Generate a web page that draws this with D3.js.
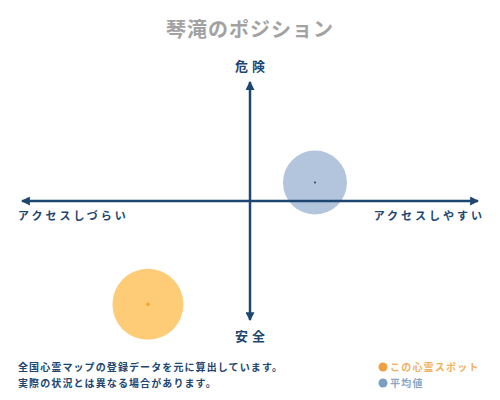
<!DOCTYPE html>
<html>
<head>
  <meta charset="utf-8" />
  <title>琴滝のポジション</title>
  <style>
    body { margin: 0; background: #fff; }
    svg { display: block; font-family: "Noto Sans CJK JP", sans-serif; }
  </style>
</head>
<body>
  <svg id="svg" width="500" height="400"></svg>
  <script src="https://d3js.org/d3.v7.min.js"></script>
  <script>
    // values (axis -100..100)
    const seriesNames = ['この心霊スポット', '平均値']
    const accessValues = [-44, 28]     // x: アクセスしづらい <-> しやすい
    const dangerValues = [-84, 15]     // y: 安全 <-> 危険
    const sizeValues = [35.5, 32]
    const fillColors = ['#fecb76', '#b2c5dc']
    const dotColors = ['#f5a623', '#2a3f5a']
    const legendColors = ['#f0a040', '#7a9fc2']
    const legendTextColors = ['#f0b060', '#8aa6c4']
    const axisLabels = { top: '危険', bottom: '安全', left: 'アクセスしづらい', right: 'アクセスしやすい' }
    const noteLines = ['全国心霊マップの登録データを元に算出しています。', '実際の状況とは異なる場合があります。']

    const navy = '#1d4670'
    const svg = d3.select('#svg')

    const x = d3.scaleLinear().domain([-100, 100]).range([18, 482])
    const y = d3.scaleLinear().domain([-100, 100]).range([324, 78])
    const r = d3.scaleLinear().domain([0, 100]).range([0, 100])

    const defs = svg.append('defs')
    defs.append('marker')
      .attr('id', 'arrow')
      .attr('viewBox', '-8 -4 8 8')
      .attr('markerUnits', 'userSpaceOnUse')
      .attr('markerWidth', 9).attr('markerHeight', 9)
      .attr('refX', -1).attr('refY', 0)
      .attr('orient', 'auto-start-reverse')
      .append('path').attr('d', 'M 0 0 L -8 -4 L -8 4 Z').attr('fill', navy)

    // title
    svg.append('text')
      .attr('x', 250).attr('y', 37)
      .attr('text-anchor', 'middle')
      .attr('font-size', 20).attr('font-weight', 'bold')
      .attr('fill', '#a2a2a2')
      .attr('letter-spacing', 1)
      .text('琴滝のポジション')

    // circles first (under axes)
    const pts = d3.range(seriesNames.length).map(i => ({
      x: accessValues[i], y: dangerValues[i], s: sizeValues[i], i
    }))
    svg.append('g').selectAll('circle').data(pts).join('circle')
      .attr('cx', d => x(d.x)).attr('cy', d => y(d.y))
      .attr('r', d => r(d.s))
      .attr('fill', d => fillColors[d.i])

    // axes
    svg.append('line')
      .attr('x1', x(-100) + 4).attr('x2', x(100) - 4)
      .attr('y1', y(0)).attr('y2', y(0))
      .attr('stroke', navy).attr('stroke-width', 2.5)
      .attr('marker-start', 'url(#arrow)').attr('marker-end', 'url(#arrow)')
    svg.append('line')
      .attr('x1', x(0)).attr('x2', x(0))
      .attr('y1', y(100) + 4).attr('y2', y(-100) - 4)
      .attr('stroke', navy).attr('stroke-width', 2.5)
      .attr('marker-start', 'url(#arrow)').attr('marker-end', 'url(#arrow)')

    svg.append('g').selectAll('circle').data(pts).join('circle')
      .attr('cx', d => x(d.x)).attr('cy', d => y(d.y))
      .attr('r', d => d.i === 0 ? 1.8 : 1)
      .attr('fill', d => dotColors[d.i])

    // axis labels
    const lab = svg.append('g').attr('font-weight', 'bold').attr('fill', navy)
    lab.append('text').attr('x', 250).attr('y', 71).attr('text-anchor', 'middle')
      .attr('font-size', 13).attr('letter-spacing', 4).attr('dx', 2).text(axisLabels.top)
    lab.append('text').attr('x', 250).attr('y', 341).attr('text-anchor', 'middle')
      .attr('font-size', 13).attr('letter-spacing', 4).attr('dx', 2).text(axisLabels.bottom)
    lab.append('text').attr('x', 18).attr('y', 220)
      .attr('font-size', 11).attr('letter-spacing', 3).text(axisLabels.left)
    lab.append('text').attr('x', 482).attr('y', 220).attr('text-anchor', 'end')
      .attr('font-size', 11).attr('letter-spacing', 3).attr('dx', 3).text(axisLabels.right)

    // note
    svg.append('g').selectAll('text').data(noteLines).join('text')
      .attr('x', 18).attr('y', (d, i) => 371 + i * 16)
      .attr('font-size', 10).attr('font-weight', 'bold')
      .attr('letter-spacing', 1.1)
      .attr('fill', navy)
      .text(d => d)

    // legend
    const leg = svg.append('g').selectAll('g').data(seriesNames).join('g')
      .attr('transform', (d, i) => `translate(383, ${367 + i * 16})`)
    leg.append('circle').attr('r', 4.5).attr('fill', (d, i) => legendColors[i])
    leg.append('text').attr('x', 7).attr('y', 4)
      .attr('font-size', 10).attr('font-weight', 'bold')
      .attr('letter-spacing', 1.2)
      .attr('fill', (d, i) => legendTextColors[i])
      .text(d => d)
  </script>
</body>
</html>
